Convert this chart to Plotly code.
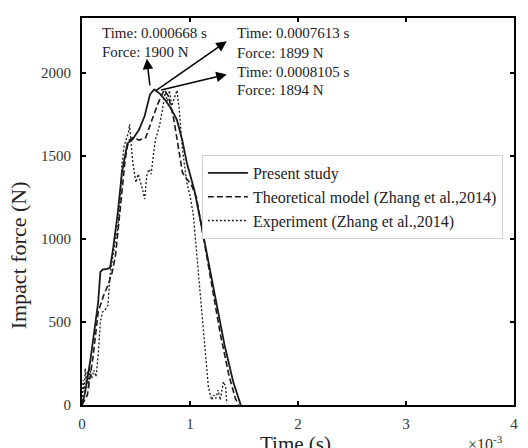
import plotly.graph_objects as go

# Time in units of 1e-3 s, force in N
present_t = [0, 0.03, 0.08, 0.12, 0.15, 0.17, 0.19, 0.23, 0.26, 0.29, 0.33, 0.37, 0.42, 0.47, 0.53,
             0.58, 0.63, 0.668, 0.72, 0.76, 0.82, 0.88, 0.93, 0.97, 1.04, 1.10, 1.17, 1.24, 1.32, 1.40, 1.47]
present_f = [0, 80, 280, 480, 620, 800, 815, 820, 825, 950, 1150, 1400, 1575, 1600, 1660,
             1740, 1870, 1900, 1875, 1845, 1790, 1715, 1590, 1460, 1295, 1100, 870, 620, 360, 140, 0]

theory_t = [0, 0.05, 0.10, 0.15, 0.20, 0.24, 0.28, 0.31, 0.36, 0.40, 0.43, 0.47, 0.53, 0.59, 0.65,
            0.70, 0.7613, 0.80, 0.85, 0.89, 0.93, 0.97, 1.01, 1.06, 1.12, 1.20, 1.28, 1.36, 1.42, 1.45]
theory_f = [0, 60, 280, 560, 660, 720, 800, 900, 1220, 1480, 1590, 1610, 1595, 1610, 1720,
            1810, 1899, 1860, 1720, 1560, 1400, 1360, 1330, 1250, 1020, 720, 430, 180, 40, 0]

exp_t = [0, 0.01, 0.02, 0.03, 0.04, 0.05, 0.06, 0.07, 0.09, 0.11, 0.13, 0.15, 0.17, 0.19, 0.21,
         0.24, 0.26, 0.28, 0.31, 0.33, 0.35, 0.37, 0.39, 0.41, 0.43, 0.44, 0.45, 0.47, 0.49, 0.50,
         0.52, 0.54, 0.56, 0.58, 0.60, 0.62, 0.64, 0.66, 0.68, 0.70, 0.72, 0.74, 0.76, 0.77, 0.79,
         0.8105, 0.83, 0.85, 0.87, 0.88, 0.90, 0.93, 0.97, 1.00, 1.03, 1.06, 1.10, 1.14, 1.17, 1.20,
         1.22, 1.24, 1.26, 1.28, 1.31, 1.33, 1.34]
exp_f = [0, 150, 80, 220, 120, 200, 100, 230, 160, 210, 170, 300, 500, 560, 570,
         600, 780, 880, 1000, 1060, 1200, 1450, 1560, 1600, 1640, 1690, 1600, 1460, 1380, 1340,
         1390, 1350, 1300, 1240, 1380, 1420, 1390, 1500, 1600, 1640, 1690, 1760, 1830, 1880, 1830,
         1894, 1800, 1840, 1880, 1895, 1780, 1540, 1340, 1260, 1150, 930, 630, 330, 110, 30,
         60, 40, 90, 30, 140, 110, 10]

series_names = ["Present study", "Theoretical model (Zhang et al.,2014)", "Experiment (Zhang et al.,2014)"]

x_ticks = [0, 1, 2, 3, 4]
y_ticks = [0, 500, 1000, 1500, 2000]

label_texts = [["Time: 0.000668 s", "Force: 1900 N"],
               ["Time: 0.0007613 s", "Force: 1899 N"],
               ["Time: 0.0008105 s", "Force: 1894 N"]]

FONT = "Liberation Serif, Times New Roman, serif"
INK = "#1a1a1a"

fig = go.Figure()
fig.add_trace(go.Scatter(x=present_t, y=present_f, mode="lines", name=series_names[0],
                         line=dict(color=INK, width=1.8)))
fig.add_trace(go.Scatter(x=theory_t, y=theory_f, mode="lines", name=series_names[1],
                         line=dict(color=INK, width=1.6, dash="6px,3px")))
fig.add_trace(go.Scatter(x=exp_t, y=exp_f, mode="lines", name=series_names[2],
                         line=dict(color=INK, width=1.3, dash="2px,2px")))

axis_common = dict(showline=True, linecolor="black", linewidth=2, mirror="ticks",
                   ticks="inside", ticklen=4, tickwidth=1.5, tickcolor="black",
                   showgrid=False, zeroline=False,
                   tickfont=dict(family=FONT, size=15, color="#333"))

fig.update_xaxes(range=[0, 4], tickvals=x_ticks, ticktext=[str(v) for v in x_ticks],
                 ticklabelstandoff=4, **axis_common)
fig.update_yaxes(range=[0, 2330], tickvals=y_ticks, ticktext=[str(v) for v in y_ticks],
                 ticklabelstandoff=6, **axis_common)

ann = []
pos = [(0.165, 2241, 2127), (1.42, 2241, 2121), (1.42, 2006, 1898)]
for (lines, (x, y1, y2)) in zip(label_texts, pos):
    for txt, yy in zip(lines, (y1, y2)):
        ann.append(dict(x=x, y=yy, xref="x", yref="y", text=txt, showarrow=False,
                        xanchor="left", yanchor="middle",
                        font=dict(family=FONT, size=15, color="#222")))
# arrows (head at text side)
arrows = [((0.63, 1915), (0.60, 2085)),
          ((0.67, 1886), (1.34, 2190)),
          ((0.72, 1895), (1.34, 1990))]
for (tx, ty), (hx, hy) in arrows:
    ann.append(dict(x=hx, y=hy, ax=tx, ay=ty, xref="x", yref="y", axref="x", ayref="y",
                    text="", showarrow=True, arrowhead=2, arrowsize=1.4, arrowwidth=1.5,
                    arrowcolor="black", arrowside="end", standoff=0, startstandoff=0))

ann.append(dict(x=-0.147, y=0.388, xref="paper", yref="paper", text="Impact force (N)",
                textangle=-90, showarrow=False, xanchor="center", yanchor="middle",
                font=dict(family=FONT, size=22, color="#222")))
ann.append(dict(x=0.495, y=-0.064, xref="paper", yref="paper", text="Time (s)",
                showarrow=False, xanchor="center", yanchor="top",
                font=dict(family=FONT, size=21, color="#222")))
ann.append(dict(x=0.89, y=-0.098, xref="paper", yref="paper", text="×10<sup>-3</sup>",
                showarrow=False, xanchor="left", yanchor="middle",
                font=dict(family=FONT, size=16, color="#333")))

fig.update_layout(
    width=528, height=448,
    margin=dict(l=82, r=10, t=18, b=43),
    paper_bgcolor="white", plot_bgcolor="white",
    showlegend=True,
    legend=dict(x=0.2775, y=0.646, xanchor="left", yanchor="top",
                bgcolor="white", bordercolor="#d0d0d0", borderwidth=1,
                font=dict(family=FONT, size=16, color="#222"),
                tracegroupgap=0, itemwidth=40),
    annotations=ann,
)

fig.write_html("out.html")
